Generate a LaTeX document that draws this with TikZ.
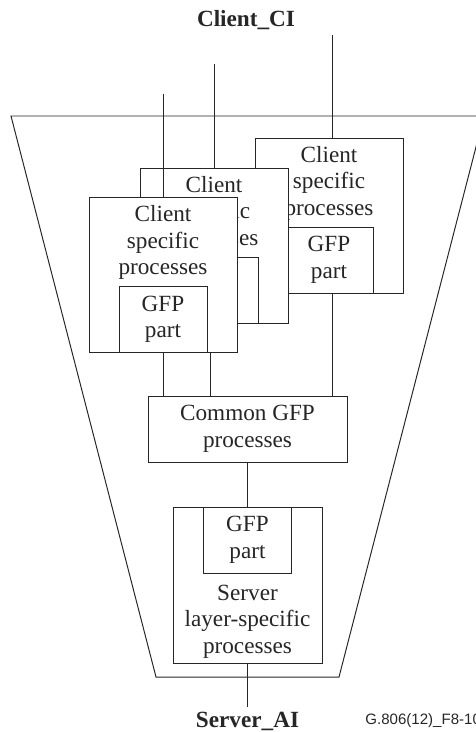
\documentclass[tikz,border=0pt]{standalone}
\usepackage{fontspec}
\setmainfont{Liberation Serif}
\newfontfamily\figsans{Liberation Sans}
\usetikzlibrary{positioning}

\begin{document}
\begin{tikzpicture}[color=black!85, line width=0.7pt, proc/.style={draw, fill=white, inner sep=0pt, align=center, font=\fontsize{16.5}{18.85}\selectfont}, client/.style={proc, minimum width=3.7cm, minimum height=3.875cm}, gfp/.style={proc, minimum width=2.2cm, minimum height=1.65cm}, txt/.style={inner sep=0pt, align=center, font=\fontsize{16.5}{18.85}\selectfont}, port/.style={font=\fontsize{16.5}{18.85}\selectfont\bfseries, anchor=north}]
\useasboundingbox (0,0) rectangle (11.9,-18.3);
\clip (0,0) rectangle (11.9,-18.3);
\draw (0.275,-2.9) -- (12.1,-2.9) -- (8.475,-16.925) -- (3.9,-16.925) -- cycle;
\node[port, inner sep=0pt] (cci) at (6.15,-0.25) {Client\_CI};
\node[client] (cs3) at (8.225,-5.3875) {};
\node[txt, below=0.2cm of cs3.north] (ct3) {Client\\specific\\processes};
\node[gfp, above=0pt of cs3.south] (gp3) {GFP\\part};
\node[client] (cs2) at (5.35,-6.1375) {};
\node[txt, below=0.2cm of cs2.north] (ct2) {Client\\specific\\processes};
\node[gfp, above=0pt of cs2.south] (gp2) {};
\node[client] (cs1) at (4.075,-6.875) {};
\node[txt, below=0.2cm of cs1.north] (ct1) {Client\\specific\\processes};
\node[gfp, above=0pt of cs1.south] (gp1) {GFP\\part};
\node[proc, minimum width=4.975cm, minimum height=1.65cm] (cg) at (6.1875,-10.725) {Common GFP\\processes};
\node[proc, minimum width=3.725cm, minimum height=3.9cm] (sv) at (6.1875,-14.625) {};
\node[gfp, below=0pt of sv.north] (gps) {GFP\\part};
\node[txt, below=0.275cm of gps.south] (svt) {Server\\layer-specific\\processes};
\node[port, inner sep=3.5pt] (sai) at (6.1875,-17.675) {Server\_AI};
\node[font=\figsans\fontsize{10.7}{12}\selectfont, anchor=west, inner sep=0pt] (fig) at (9.125,-18.025) {G.806(12)\_F8-10};
\coordinate (in3) at (8.3,-0.875);
\coordinate (in2) at (5.35,-1.6);
\coordinate (in1) at (4.075,-2.35);
\coordinate (out2) at (5.25,-9.5);
\draw (in3) -- (in3 |- cs3.north);
\draw (in2) -- (in2 |- cs2.north);
\draw (in1) -- (in1 |- cs1.north);
\draw (in3 |- cs3.south) -- (in3 |- cg.north);
\draw (out2 |- cs1.south) -- (out2 |- cg.north);
\draw (cs1.south) -- (cs1.south |- cg.north);
\draw (cg) -- (sv);
\draw (sv) -- (sai);
\end{tikzpicture}
\end{document}
